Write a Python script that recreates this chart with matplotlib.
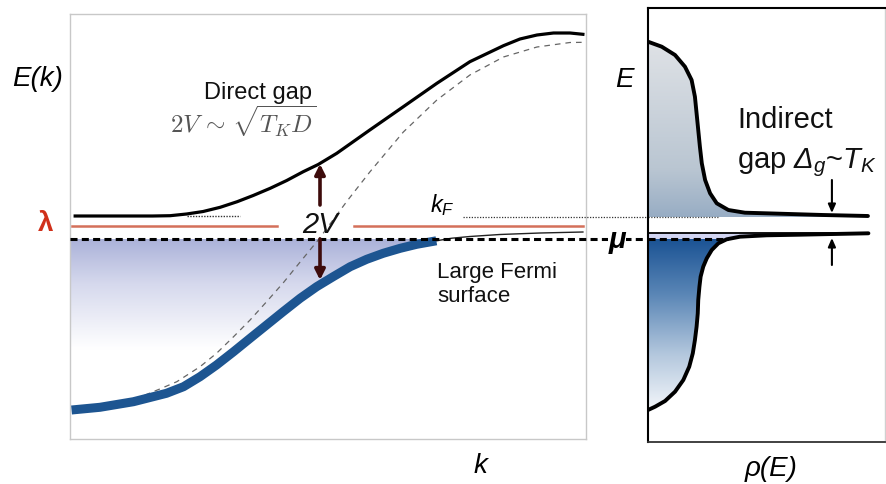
import numpy as np
import matplotlib
matplotlib.use('Agg')
import matplotlib.pyplot as plt
from matplotlib.patches import Polygon
from matplotlib.colors import to_rgb

plt.rcParams['font.family'] = ['Liberation Sans', 'DejaVu Sans']
plt.rcParams['mathtext.fontset'] = 'custom'
plt.rcParams['mathtext.rm'] = 'Liberation Sans'
plt.rcParams['mathtext.it'] = 'Liberation Sans:italic'
plt.rcParams['mathtext.bf'] = 'Liberation Sans:bold'
plt.rcParams['mathtext.sf'] = 'Liberation Sans:italic'

# ---------------- data (read from the picture; E measured relative to mu) ----
# left panel: dispersion E(k)
upper_k = [0.010, 0.116, 0.160, 0.194, 0.226, 0.258, 0.291, 0.324, 0.355, 0.388,
           0.420, 0.452, 0.481, 0.517, 0.581, 0.646, 0.711, 0.775, 0.840, 0.872,
           0.905, 0.937, 0.969, 0.994]
upper_E = [23, 23, 23, 23.3, 25, 27.5, 31.7, 37.3, 43.5, 50.7,
           58.5, 67.3, 74.5, 85.7, 109, 132.3, 155.7, 177.3, 193.3, 200,
           204, 206, 206, 204.7]

cond_k = [0.004, 0.058, 0.122, 0.174, 0.207, 0.252, 0.284, 0.317, 0.349, 0.381,
          0.413, 0.446, 0.481, 0.537, 0.581, 0.646, 0.711, 0.775, 0.840, 0.905,
          0.969, 1.0]
cond_E = [-170, -167, -161, -150, -142.7, -127.7, -114.3, -97.7, -81, -62.7,
          -44, -23, -1, 38, 67, 107, 139, 164, 182, 192,
          196.5, 196.7]

blue_k = [0.003, 0.058, 0.123, 0.187, 0.220, 0.252, 0.284, 0.317, 0.349, 0.381,
          0.413, 0.446, 0.478, 0.510, 0.543, 0.575, 0.607, 0.640, 0.672, 0.710]
blue_E = [-171, -168.3, -162.7, -154.3, -147.7, -137.7, -126, -112.7, -99.3, -86,
          -72.7, -59.3, -47.7, -37.7, -27.7, -20.3, -14.3, -9.3, -5.3, -1.8]

tail_k = [0.710, 0.740, 0.775, 0.833, 0.911, 0.994]
tail_E = [-1.8, 0.8, 2.5, 4.5, 6, 7]

lam_E = 13
lam_segs = [(0.004, 0.401), (0.550, 0.994)]
mu_E = 0
kF_E = 22
flat_dot = (0.227, 0.329, 23)
kF_dot = (0.762, 1.12)
gap_k = 0.4845
gap_up = (34, 75)
gap_down = (0, -41)

# right panel: density of states rho(E)
up_rho = [0.0, 0.058, 0.114, 0.156, 0.184, 0.198, 0.205, 0.212, 0.219, 0.227,
          0.241, 0.262, 0.290, 0.339, 0.409, 0.527, 0.738, 0.928]
up_E = [197.3, 192.3, 184, 172.3, 159, 142.3, 125.7, 109, 92.3, 75.7,
        59, 45.7, 35.7, 29, 26.3, 25.5, 24, 23]

low_rho = [0.930, 0.782, 0.641, 0.501, 0.388, 0.332, 0.297, 0.269, 0.248, 0.233,
           0.222, 0.217, 0.212, 0.210, 0.205, 0.198, 0.189, 0.174, 0.149, 0.114,
           0.072, 0.030, 0.0]
low_E = [5.7, 5, 4.3, 3.7, 2.3, -0.3, -4.3, -11, -19.3, -27.7,
         -37.7, -47.7, -61, -74.3, -87.7, -101, -114.3, -127.7, -141, -152.7,
         -162, -167.7, -171]
low_top_E = 6
arr_rho = 0.776
arr_down = (59, 26)
arr_up = (-26, 1)

# ---------------- figure ----------------
W, H = 887, 484
fig = plt.figure(figsize=(W / 100, H / 100), dpi=100)
axL = fig.add_axes([70 / W, 1 - 439 / H, 516 / W, 425 / H])
axR = fig.add_axes([648 / W, 1 - 442 / H, 237 / W, 434 / H])
axR.patch.set_alpha(0)


def px(x, y):
    return x / W, 1 - y / H


def gradient_fill(ax, xs, ys, stops_E, stops_col, zorder=1):
    poly = Polygon(np.column_stack([xs, ys]), closed=True, facecolor='none',
                   edgecolor='none')
    ax.add_patch(poly)
    emin, emax = min(ys), max(ys)
    es = np.linspace(emax, emin, 300)
    se = np.array(stops_E, float)
    rgb = np.array([to_rgb(c) for c in stops_col])
    o = np.argsort(se)
    se, rgb = se[o], rgb[o]
    img = np.stack([np.interp(es, se, rgb[:, i]) for i in range(3)], axis=-1)[:, None, :]
    im = ax.imshow(img, extent=[min(xs), max(xs), emin, emax], aspect='auto',
                   origin='upper', zorder=zorder, interpolation='bilinear')
    im.set_clip_path(poly)


# ---- left panel ----
fx = [0.0, blue_k[-1]] + blue_k[::-1] + [0.0]
fy = [mu_E, mu_E] + blue_E[::-1] + [blue_E[0]]
gradient_fill(axL, fx, fy, [0, -45, -110, -200],
              ['#abb2d9', '#d6d9ed', '#ffffff', '#ffffff'])

axL.plot(cond_k, cond_E, color='#666666', lw=0.9, dashes=(4.5, 4), zorder=2)
axL.plot(blue_k, blue_E, color='#1d5591', lw=6.5, solid_capstyle='butt',
         solid_joinstyle='round', zorder=4)
axL.plot(tail_k, tail_E, color='#222222', lw=1.0, zorder=3)
axL.plot(upper_k, upper_E, color='black', lw=2.3, solid_joinstyle='round', zorder=4)
axL.plot(flat_dot[:2], [flat_dot[2]] * 2, color='#333333', lw=1.0,
         dashes=(1, 1), zorder=3)
for a, b in lam_segs:
    axL.plot([a, b], [lam_E, lam_E], color='#d4705a', lw=1.8, zorder=3)
axL.plot([0, 1.12], [mu_E, mu_E], color='black', lw=2.2, dashes=(2.3, 1.4),
         zorder=5, clip_on=False)
axL.plot(kF_dot, [kF_E, kF_E], color='#333333', lw=0.9, dashes=(1, 1.2),
         zorder=3, clip_on=False)

brown = '#3d0b0b'
for tail, tip in [gap_up, gap_down]:
    axL.annotate('', xy=(gap_k, tip), xytext=(gap_k, tail),
                 arrowprops=dict(arrowstyle='-|>,head_length=0.6,head_width=0.3',
                                 color=brown, lw=2.6, shrinkA=0, shrinkB=0),
                 zorder=6)

axL.set_xlim(0, 1)
axL.set_ylim(-200, 225)
axL.set_xticks([])
axL.set_yticks([])
for s in axL.spines.values():
    s.set_color('#c8c8c8')
    s.set_linewidth(1.0)

# ---- right panel ----
rho0 = float(np.interp(0, low_E[::-1], low_rho[::-1]))
ux = up_rho + [up_rho[-1], 0.0]
uy = up_E + [kF_E - 0.5, kF_E - 0.5]
gradient_fill(axR, ux, uy, [kF_E, 70, 197], ['#98adc4', '#bac6d2', '#dfe2e6'])
neg = [(r, e) for r, e in zip(low_rho, low_E) if e < 0]
lx = [0.0, rho0] + [r for r, e in neg]
ly = [0.0, 0.0] + [e for r, e in neg]
gradient_fill(axR, lx, ly, [0, -55, -115, -171],
              ['#1b5394', '#5a86b6', '#b3c7dd', '#f3f6fa'])
pos = [(r, e) for r, e in zip(low_rho, low_E) if e >= 0]
vx = [0.0] + [r for r, e in pos] + [rho0, 0.0]
vy = [low_top_E] + [e for r, e in pos] + [0.0, 0.0]
axR.fill(vx, vy, color='#d2d5f2', lw=0, zorder=1)

axR.plot([0, rho0], [mu_E, mu_E], color='black', lw=2.2, dashes=(2.3, 1.4), zorder=2)
axR.plot([0, 0.30], [kF_E - 0.5, kF_E - 0.5], color='#444444', lw=0.9,
         dashes=(1, 1.2), zorder=2)
axR.plot([0, low_rho[0]], [low_top_E, low_top_E], color='black', lw=1.3, zorder=3)
axR.plot(up_rho, up_E, color='black', lw=2.8, zorder=4, solid_capstyle='round',
         solid_joinstyle='round')
axR.plot(low_rho, low_E, color='black', lw=2.8, zorder=4, solid_capstyle='round',
         solid_joinstyle='round')

for tail, tip in [arr_down, arr_up]:
    axR.annotate('', xy=(arr_rho, tip), xytext=(arr_rho, tail),
                 arrowprops=dict(arrowstyle='-|>,head_length=0.5,head_width=0.22',
                                 color='black', lw=1.5, shrinkA=0, shrinkB=0),
                 zorder=6)

axR.set_xlim(0, 1)
axR.set_ylim(-203, 231)
axR.set_xticks([])
axR.set_yticks([])
axR.spines['left'].set_color('black')
axR.spines['left'].set_linewidth(1.5)
axR.spines['top'].set_color('black')
axR.spines['top'].set_linewidth(1.5)
axR.spines['bottom'].set_color('#333333')
axR.spines['bottom'].set_linewidth(1.3)
axR.spines['right'].set_color('#d0d0d0')
axR.spines['right'].set_linewidth(1.0)

# ---- texts ----
fig.text(*px(12, 86), 'E(k)', fontsize=20, fontstyle='italic', ha='left', va='baseline')
fig.text(*px(46, 231), 'λ', fontsize=20, fontweight='bold', color='#d0301a',
         ha='center', va='baseline')
fig.text(*px(204, 99), 'Direct gap', fontsize=17, ha='left', va='baseline',
         color='#111111')
fig.text(*px(170, 133), r'$2V\,\sim\,\sqrt{T_K D}$', fontsize=18, ha='left',
         va='baseline', color='#555555', math_fontfamily='cm')
fig.text(*px(320, 233), '2V', fontsize=21, fontstyle='italic', ha='center',
         va='baseline', color='#111111')
fig.text(*px(430, 212), r'$k_F$', fontsize=17, ha='left', va='baseline')
fig.text(*px(437, 278), 'Large Fermi', fontsize=16, ha='left', va='baseline',
         color='#111111')
fig.text(*px(437, 302), 'surface', fontsize=16, ha='left', va='baseline',
         color='#111111')
fig.text(*px(615, 87), 'E', fontsize=20, fontstyle='italic', ha='left', va='baseline')
fig.text(*px(617, 248), 'μ', fontsize=21, fontweight='bold', fontstyle='italic',
         ha='center', va='baseline',
         bbox=dict(facecolor='white', edgecolor='none', pad=0.5))
fig.text(*px(737, 128), 'Indirect', fontsize=21, ha='left', va='baseline',
         color='#111111')
fig.text(*px(737, 168), r'gap $\mathsf{\Delta}_g$~$T_K$', fontsize=21, ha='left',
         va='baseline', color='#111111')
fig.text(*px(480, 473), 'k', fontsize=20, fontstyle='italic', ha='center',
         va='baseline')
fig.text(*px(771, 476), 'ρ(E)', fontsize=20, fontstyle='italic', ha='center',
         va='baseline')

fig.savefig('out.png', dpi=100)
